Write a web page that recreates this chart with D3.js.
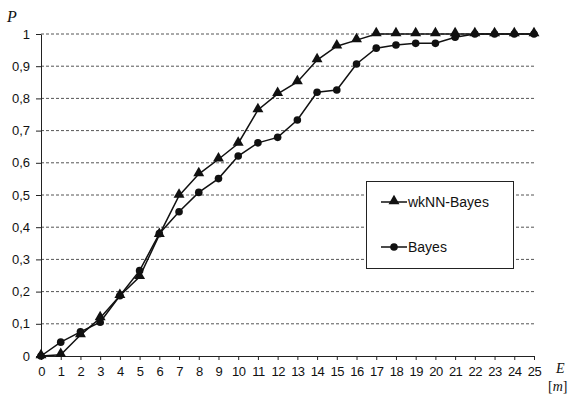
<!DOCTYPE html>
<html><head><meta charset="utf-8">
<script src="https://cdn.jsdelivr.net/npm/d3@7"></script>
<style>body{margin:0;background:#fff}svg{display:block}</style>
</head><body>
<script>
const xValues = d3.range(0, 26);
const wknnBayes = [0, 0.004, 0.065, 0.118, 0.187, 0.246, 0.376, 0.498, 0.565, 0.611, 0.66, 0.764, 0.814, 0.851, 0.919, 0.962, 0.981, 1, 1, 1, 1, 1, 1, 1, 1, 1];
const bayes = [0, 0.043, 0.075, 0.105, 0.187, 0.265, 0.38, 0.448, 0.508, 0.551, 0.621, 0.662, 0.679, 0.733, 0.819, 0.826, 0.907, 0.956, 0.966, 0.971, 0.971, 0.99, 1, 1, 1, 1];
const yTicks = d3.range(0, 11).map(i => i / 10);
const seriesNames = ["wkNN-Bayes", "Bayes"];

const W = 576, H = 395;
const svg = d3.select("body").append("svg").attr("width", W).attr("height", H);
const x = d3.scaleLinear().domain([0, 25]).range([41, 534]);
const y = d3.scaleLinear().domain([0, 1]).range([356, 34]);
const fmt = v => v === 0 ? "0" : v === 1 ? "1" : String(v.toFixed(1)).replace(".", ",");

// gridlines
svg.append("g").selectAll("line").data(yTicks.filter(v => v > 0)).join("line")
  .attr("x1", x(0)).attr("x2", x(25)).attr("y1", d => y(d)).attr("y2", d => y(d))
  .attr("stroke", "#555").attr("stroke-width", 1).attr("stroke-dasharray", "3,2");

// axes
const yAxis = d3.axisLeft(y).tickValues(yTicks).tickFormat(fmt).tickSizeInner(5).tickSizeOuter(0).tickPadding(6);
const gy = svg.append("g").attr("transform", `translate(${x(0)},0)`).call(yAxis);
gy.select(".domain").attr("stroke", "#222");
gy.selectAll(".tick line").attr("stroke", "#222");
gy.selectAll("text").attr("font-family", "Liberation Sans, Arial, sans-serif").attr("font-size", 13).attr("fill", "#111");

const xAxis = d3.axisBottom(x).tickValues(xValues).tickFormat(d => d).tickSizeInner(4).tickSizeOuter(0).tickPadding(7);
const gx = svg.append("g").attr("transform", `translate(0,${y(0)})`).call(xAxis);
gx.select(".domain").attr("stroke", "#222");
gx.selectAll(".tick line").attr("stroke", "#222");
gx.selectAll("text").attr("font-family", "Liberation Sans, Arial, sans-serif").attr("font-size", 13).attr("fill", "#111")
  .attr("letter-spacing", "-0.5px");

// lines
const line = d3.line().x((d, i) => x(xValues[i])).y(d => y(d));
svg.append("path").datum(bayes).attr("d", line).attr("fill", "none").attr("stroke", "#111").attr("stroke-width", 1.5);
svg.append("path").datum(wknnBayes).attr("d", line).attr("fill", "none").attr("stroke", "#111").attr("stroke-width", 1.5);

const tri = d3.symbol().type(d3.symbolTriangle).size(52);
svg.append("g").selectAll("path").data(wknnBayes).join("path")
  .attr("d", tri).attr("transform", (d, i) => `translate(${x(xValues[i])},${y(d) - 1})`).attr("fill", "#111");
svg.append("g").selectAll("circle").data(bayes).join("circle")
  .attr("cx", (d, i) => x(xValues[i])).attr("cy", d => y(d)).attr("r", 3.8).attr("fill", "#111");

// legend
const lg = svg.append("g");
lg.append("rect").attr("x", 366.5).attr("y", 181.5).attr("width", 147).attr("height", 87)
  .attr("fill", "#fff").attr("stroke", "#222").attr("stroke-width", 1);
const ly = [202, 247];
seriesNames.forEach((name, i) => {
  lg.append("line").attr("x1", 381).attr("x2", 407).attr("y1", ly[i]).attr("y2", ly[i]).attr("stroke", "#111").attr("stroke-width", 1.5);
  if (i === 0) lg.append("path").attr("d", tri).attr("transform", `translate(394,${ly[i] - 1})`).attr("fill", "#111");
  else lg.append("circle").attr("cx", 394).attr("cy", ly[i]).attr("r", 3.8).attr("fill", "#111");
  lg.append("text").attr("x", 408).attr("y", ly[i] + 5).text(name)
    .attr("font-family", "Liberation Sans, Arial, sans-serif").attr("font-size", 14).attr("fill", "#111");
});

// axis titles
svg.append("text").attr("x", 7).attr("y", 22).text("P")
  .attr("font-family", "Liberation Serif, Times New Roman, serif").attr("font-style", "italic").attr("font-size", 16).attr("fill", "#111");
svg.append("text").attr("x", 556).attr("y", 373).text("E")
  .attr("font-family", "Liberation Serif, Times New Roman, serif").attr("font-style", "italic").attr("font-size", 14).attr("fill", "#111");
const mt = svg.append("text").attr("x", 548).attr("y", 391)
  .attr("font-family", "Liberation Serif, Times New Roman, serif").attr("font-size", 14).attr("fill", "#111");
mt.append("tspan").text("[");
mt.append("tspan").attr("font-style", "italic").text("m");
mt.append("tspan").text("]");
</script>
</body></html>
